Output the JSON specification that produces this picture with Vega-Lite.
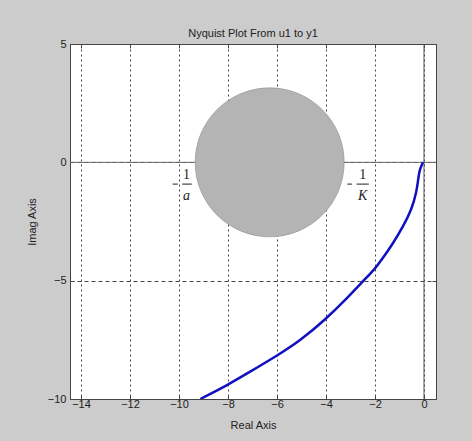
{
  "$schema": "https://vega.github.io/schema/vega-lite/v6.json",
  "autosize": {"type": "none"},
  "width": 366,
  "height": 355,
  "padding": {"left": 70, "top": 44, "right": 36, "bottom": 42},
  "background": "#cccccc",
  "title": {"text": "Nyquist Plot From u1 to y1", "fontSize": 11, "fontWeight": "normal", "font": "Liberation Sans", "color": "#222222", "offset": -1, "frame": "group"},
  "config": {
    "view": {"stroke": "#444444", "strokeWidth": 1, "fill": "white"},
    "axis": {"labelFont": "Liberation Sans", "titleFont": "Liberation Sans", "labelFontSize": 11, "titleFontSize": 11, "titleFontWeight": "normal", "labelColor": "#222222", "titleColor": "#222222", "domain": false, "tickColor": "#444444", "gridColor": "#444444", "gridOpacity": 1, "gridWidth": 1}
  },
  "datasets": {
    "curve": [
      {"re": -0.04, "im": 0.0},
      {"re": -0.18, "im": -0.31},
      {"re": -0.22, "im": -0.59},
      {"re": -0.31, "im": -1.3},
      {"re": -0.51, "im": -2.0},
      {"re": -0.85, "im": -2.71},
      {"re": -1.26, "im": -3.42},
      {"re": -1.73, "im": -4.12},
      {"re": -2.0, "im": -4.5},
      {"re": -2.47, "im": -5.0},
      {"re": -3.21, "im": -5.82},
      {"re": -4.0, "im": -6.62},
      {"re": -5.07, "im": -7.55},
      {"re": -6.0, "im": -8.17},
      {"re": -7.12, "im": -8.86},
      {"re": -8.0, "im": -9.4},
      {"re": -9.13, "im": -10.0}
    ],
    "disk": [{"re": -6.3, "im": 0}],
    "nums": [
      {"re": -9.69, "im": -0.52, "t": "1"},
      {"re": -2.5, "im": -0.52, "t": "1"}
    ],
    "dens": [
      {"re": -9.69, "im": -1.44, "t": "a"},
      {"re": -2.5, "im": -1.42, "t": "K"}
    ],
    "bars": [
      {"re": -10.26, "re2": -10.05, "im": -0.92},
      {"re": -9.87, "re2": -9.48, "im": -0.92},
      {"re": -3.13, "re2": -2.94, "im": -0.92},
      {"re": -2.75, "re2": -2.25, "im": -0.92}
    ]
  },
  "layer": [
    {
      "data": {"values": [{"im": 0}]},
      "mark": {"type": "rule", "color": "#6a6a6a", "strokeWidth": 1},
      "encoding": {"y": {"field": "im", "type": "quantitative", "scale": {"domain": [-10, 5], "nice": false, "zero": false}, "axis": null}}
    },
    {
      "data": {"values": [{"re": 0}]},
      "mark": {"type": "rule", "color": "#555555", "strokeWidth": 1},
      "encoding": {"x": {"field": "re", "type": "quantitative", "scale": {"domain": [-14.45, 0.49], "nice": false, "zero": false}, "axis": null}}
    },
    {
      "data": {"name": "disk"},
      "mark": {"type": "point", "shape": "circle", "filled": true, "size": 22201, "fill": "#b4b4b4", "fillOpacity": 1, "stroke": "#8c8c8c", "strokeWidth": 0.6, "opacity": 1},
      "encoding": {
        "x": {"field": "re", "type": "quantitative", "axis": {"orient": "top", "title": null, "labels": false, "grid": false, "values": [-14, -12, -10, -8, -6, -4, -2, 0], "tickSize": -4}},
        "y": {"field": "im", "type": "quantitative", "axis": {"orient": "right", "title": null, "labels": false, "grid": false, "values": [-10, -5, 0, 5], "tickSize": -4}}
      }
    },
    {
      "data": {"name": "curve"},
      "mark": {"type": "line", "color": "#1010c0", "strokeWidth": 2.5, "clip": true, "interpolate": "basis"},
      "encoding": {
        "x": {"field": "re", "type": "quantitative", "axis": {"orient": "bottom", "title": "Real Axis", "grid": true, "values": [-14, -12, -10, -8, -6, -4, -2, 0], "tickSize": -4, "labelPadding": 3, "titlePadding": 10, "gridDash": [2, 3]}},
        "y": {"field": "im", "type": "quantitative", "axis": {"orient": "left", "title": "Imag Axis", "grid": true, "values": [-10, -5, 0, 5], "tickSize": -4, "labelPadding": 8, "titlePadding": 10, "gridDash": [4, 3]}},
        "order": {"field": "im", "sort": "descending"}
      }
    },
    {
      "data": {"name": "bars"},
      "mark": {"type": "rule", "color": "#222222", "strokeWidth": 1},
      "encoding": {
        "x": {"field": "re", "type": "quantitative", "axis": null},
        "x2": {"field": "re2"},
        "y": {"field": "im", "type": "quantitative", "axis": null}
      }
    },
    {
      "data": {"name": "nums"},
      "mark": {"type": "text", "font": "Liberation Serif", "fontSize": 14, "color": "#222222", "baseline": "middle", "align": "center"},
      "encoding": {
        "x": {"field": "re", "type": "quantitative", "axis": null},
        "y": {"field": "im", "type": "quantitative", "axis": null},
        "text": {"field": "t"}
      }
    },
    {
      "data": {"name": "dens"},
      "mark": {"type": "text", "font": "Liberation Serif", "fontSize": 14, "fontStyle": "italic", "color": "#222222", "baseline": "middle", "align": "center"},
      "encoding": {
        "x": {"field": "re", "type": "quantitative", "axis": null},
        "y": {"field": "im", "type": "quantitative", "axis": null},
        "text": {"field": "t"}
      }
    }
  ],
  "resolve": {"axis": {"x": "independent", "y": "independent"}}
}
